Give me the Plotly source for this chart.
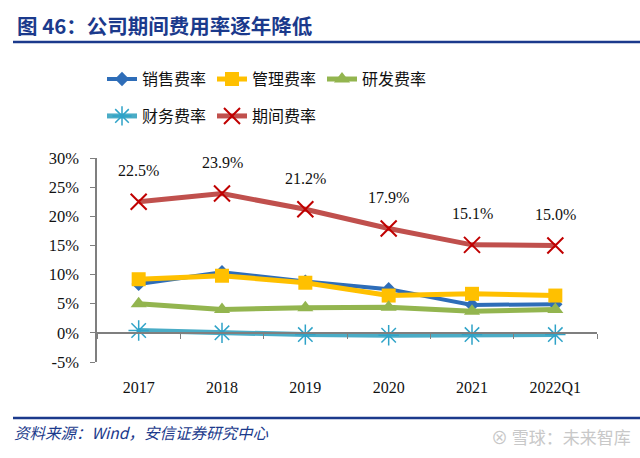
import plotly.graph_objects as go

categories = ["2017", "2018", "2019", "2020", "2021", "2022Q1"]
sales_rate = [8.4, 10.4, 8.8, 7.5, 4.8, 4.9]
admin_rate = [9.2, 9.8, 8.6, 6.4, 6.7, 6.4]
rd_rate = [5.0, 4.0, 4.3, 4.4, 3.7, 4.0]
fin_rate = [0.4, 0.0, -0.3, -0.4, -0.3, -0.3]
period_rate = [22.5, 23.9, 21.2, 17.9, 15.1, 15.0]
y_ticks = [-5, 0, 5, 10, 15, 20, 25, 30]
y_tick_labels = [f"{v}%" for v in y_ticks]

NAVY = "#1B3A8C"
SERIF = "Liberation Serif"
CJK = "Noto Sans CJK SC"

fig = go.Figure()

fig.add_trace(go.Scatter(
    x=categories, y=sales_rate, name="销售费率", mode="lines+markers",
    line=dict(color="#2E6DB8", width=4),
    marker=dict(symbol="diamond", size=11, color="#2E6DB8"),
    legend="legend",
))
fig.add_trace(go.Scatter(
    x=categories, y=admin_rate, name="管理费率", mode="lines+markers",
    line=dict(color="#FFC000", width=5),
    marker=dict(symbol="square", size=14, color="#FFC000"),
    legend="legend",
))
fig.add_trace(go.Scatter(
    x=categories, y=rd_rate, name="研发费率", mode="lines+markers",
    line=dict(color="#93B54F", width=5),
    marker=dict(symbol="triangle-up", size=14, color="#93B54F"),
    legend="legend",
))
fig.add_trace(go.Scatter(
    x=categories, y=fin_rate, name="财务费率", mode="lines+markers",
    line=dict(color="#4AACC6", width=5),
    marker=dict(symbol="asterisk-open", size=17, color="#2FA3C8",
                line=dict(color="#2FA3C8", width=1.5)),
    legend="legend2",
))
fig.add_trace(go.Scatter(
    x=categories, y=period_rate, name="期间费率", mode="lines+markers",
    line=dict(color="#C0504D", width=5),
    marker=dict(symbol="x-thin-open", size=16, color="#C00000",
                line=dict(color="#C00000", width=2)),
    legend="legend2",
))
# helper trace for the axis line drawn at 0%
fig.add_trace(go.Scatter(
    x=categories, y=[None] * len(categories), xaxis="x2", yaxis="y",
    showlegend=False, hoverinfo="skip",
))

for i, v in enumerate(period_rate):
    fig.add_annotation(
        x=i, y=v, text=f"{v:.1f}%", showarrow=False, yshift=31,
        font=dict(family=SERIF, size=16, color="#111111"),
    )

fig.update_layout(
    width=640, height=458,
    margin=dict(l=97, r=43, t=158, b=96, autoexpand=False),
    paper_bgcolor="white", plot_bgcolor="white",
    xaxis=dict(
        type="category", range=[-0.5, 5.5], showline=False, showgrid=False,
        zeroline=False, ticks="", ticklabelstandoff=14,
        tickfont=dict(family=SERIF, size=16, color="#111111"),
    ),
    xaxis2=dict(
        type="category", range=[-0.5, 5.5], overlaying="x", anchor="free",
        position=5 / 35, showline=True, linecolor="#7F7F7F", linewidth=1.5,
        ticks="outside", tickson="boundaries", ticklen=5, tickcolor="#7F7F7F",
        tickwidth=1.2, showticklabels=False, showgrid=False, zeroline=False,
    ),
    yaxis=dict(
        range=[-5, 30], tickmode="array", tickvals=y_ticks, ticktext=y_tick_labels,
        showgrid=False, zeroline=False, showline=True, linecolor="#7F7F7F",
        linewidth=1.5, ticks="outside", ticklen=5, tickcolor="#7F7F7F",
        tickwidth=1.2, ticklabelstandoff=8,
        tickfont=dict(family=SERIF, size=16.5, color="#111111"),
    ),
    legend=dict(
        orientation="h", x=0.01, xanchor="left", y=1.47, yanchor="top",
        font=dict(family=CJK, size=16, color="#111111"),
        entrywidth=65, bgcolor="rgba(0,0,0,0)",
    ),
    legend2=dict(
        orientation="h", x=0.01, xanchor="left", y=1.289, yanchor="top",
        font=dict(family=CJK, size=16, color="#111111"),
        entrywidth=65, bgcolor="rgba(0,0,0,0)",
    ),
    showlegend=True,
)

# title, rules, footer
fig.add_annotation(
    xref="paper", yref="paper", x=-0.164, y=1.652, xanchor="left", yanchor="middle",
    text="<b>图 46：公司期间费用率逐年降低</b>", showarrow=False,
    font=dict(family=CJK, size=20.5, color=NAVY),
)
fig.add_shape(type="line", xref="paper", yref="paper",
              x0=-0.168, x1=1.086, y0=1.5686, y1=1.5686,
              line=dict(color=NAVY, width=2.5))
fig.add_shape(type="line", xref="paper", yref="paper",
              x0=-0.168, x1=1.086, y0=-0.2745, y1=-0.2745,
              line=dict(color=NAVY, width=2.5))
fig.add_annotation(
    xref="paper", yref="paper", x=-0.17, y=-0.342, xanchor="left", yanchor="middle",
    text="<i>资料来源：Wind，安信证券研究中心</i>", showarrow=False,
    font=dict(family=CJK, size=15.5, color=NAVY),
)
fig.add_annotation(
    xref="paper", yref="paper", x=1.072, y=-0.3676, xanchor="right", yanchor="middle",
    text="⊗ 雪球：未来智库", showarrow=False,
    font=dict(family=CJK, size=17, color="#C8C8C8"),
)

fig.write_html("out.html", config={"displayModeBar": False},
               post_script="document.body.style.margin='0px';")
